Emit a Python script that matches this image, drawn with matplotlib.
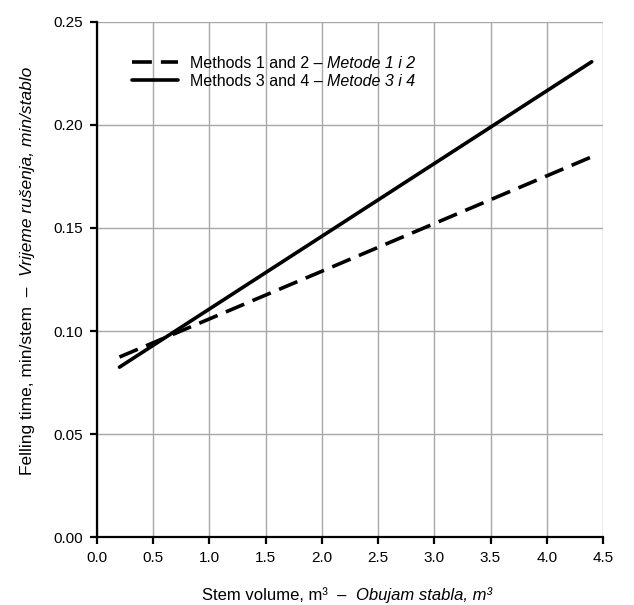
import numpy as np
import matplotlib
matplotlib.use("Agg")
import matplotlib.pyplot as plt
from matplotlib.transforms import IdentityTransform

# data: fitted lines, ends at 0.2 and 4.4 m3
stem_volume = [0.2, 4.4]
methods_12 = [0.0874, 0.1845]
methods_34 = [0.0825, 0.2306]
labels_en = ["Methods 1 and 2 – ", "Methods 3 and 4 – "]
labels_hr = ["Metode 1 i 2", "Metode 3 i 4"]

plt.rcParams['font.family'] = ['Liberation Sans', 'DejaVu Sans']

fig = plt.figure(figsize=(6.34, 6.05), dpi=100)
ax = fig.add_axes([0.153, 0.112, 0.798, 0.852])

ax.plot(stem_volume, methods_12, color='black', lw=2.6, linestyle=(0, (5.5, 2.5)),
        dash_capstyle='butt', label=labels_en[0])
ax.plot(stem_volume, methods_34, color='black', lw=2.6, solid_capstyle='round',
        label=labels_en[1])

ax.set_xlim(0, 4.5)
ax.set_ylim(0, 0.25)
ax.set_xticks(np.arange(0, 4.51, 0.5))
ax.set_yticks(np.arange(0, 0.251, 0.05))
ax.xaxis.set_major_formatter(matplotlib.ticker.FormatStrFormatter('%.1f'))
ax.yaxis.set_major_formatter(matplotlib.ticker.FormatStrFormatter('%.2f'))
ax.grid(True, color='#a8a8a8', lw=1.0)
ax.set_axisbelow(True)
for s in ['top', 'right']:
    ax.spines[s].set_visible(False)
for s in ['left', 'bottom']:
    ax.spines[s].set_linewidth(1.6)
ax.tick_params(direction='out', length=5, width=1.6, labelsize=11, pad=5)

leg = ax.legend(loc='upper left', bbox_to_anchor=(0.04, 0.962), frameon=False, fontsize=11.5,
                handlelength=2.9, handletextpad=0.75, labelspacing=0.2, borderpad=0.4)
# italic Croatian part right after each legend label
for t, hr in zip(leg.get_texts(), labels_hr):
    ax.annotate(hr, xy=(1, 0), xycoords=t, va='bottom', ha='left',
                fontsize=11.5, style='italic')

# axis labels built from roman + italic pieces
fig.canvas.draw()
renderer = fig.canvas.get_renderer()

def piece_widths(pieces, size):
    out = []
    for s, style in pieces:
        t = fig.text(0, 0, s, fontsize=size, style=style)
        out.append(t.get_window_extent(renderer).width)
        t.remove()
    return out

def place_pieces(pieces, cx, cy, size, vertical=False):
    w = piece_widths(pieces, size)
    pos = -sum(w) / 2
    for (s, style), wi in zip(pieces, w):
        if vertical:
            fig.text(cx, cy + pos, s, fontsize=size, style=style, rotation=90,
                     rotation_mode='anchor', ha='left', va='baseline',
                     transform=IdentityTransform())
        else:
            fig.text(cx + pos, cy, s, fontsize=size, style=style,
                     ha='left', va='baseline', transform=IdentityTransform())
        pos += wi

xlabel_pieces = [("Stem volume, m³  –  ", 'normal'), ("Obujam stabla, m³", 'italic')]
ylabel_pieces = [("Felling time, min/stem  –  ", 'normal'),
                 ("Vrijeme rušenja, min/stablo", 'italic')]
place_pieces(xlabel_pieces, 347, 605 - 600, 12)
place_pieces(ylabel_pieces, 32, 605 - 271, 12.5, vertical=True)

fig.savefig("out.png", dpi=100)
